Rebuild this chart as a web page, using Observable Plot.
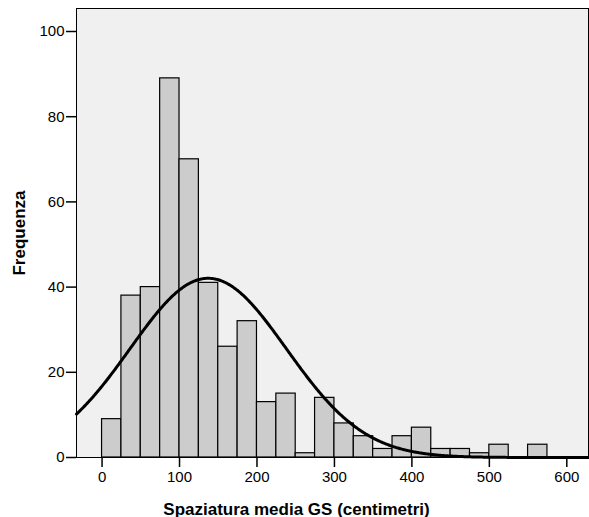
<!DOCTYPE html>
<html>
<head>
<meta charset="utf-8">
<script src="https://cdn.jsdelivr.net/npm/d3@7"></script>
<script src="https://cdn.jsdelivr.net/npm/@observablehq/plot@0.6"></script>
<style>
  html, body { margin: 0; padding: 0; background: #ffffff; }
  #chart svg { display: block; }
</style>
</head>
<body>
<div id="chart"></div>
<script>
// Histogram bins (centimetri), width 25
const binStarts = [0, 25, 50, 75, 100, 125, 150, 175, 200, 225, 250, 275, 300, 325, 350, 375, 400, 425, 450, 475, 500, 525, 550];
const counts    = [9, 38, 40, 89, 70, 41, 26, 32, 13, 15, 1, 14, 8, 5, 2, 5, 7, 2, 2, 1, 3, 0, 3];
const binWidth = 25;
// Fitted normal curve parameters
const fitMean = 137;
const fitSd = 101;
const fitN = 426;
const xTicks = [0, 100, 200, 300, 400, 500, 600];
const yTicks = [0, 20, 40, 60, 80, 100];

const bars = binStarts.map((s, i) => ({x1: s, x2: s + binWidth, y: counts[i]}))
  .filter(d => d.y > 0);

const xDomain = [-33, 628];
const curve = d3.range(xDomain[0], xDomain[1] + 0.5, 1).map(x => ({
  x,
  y: fitN * binWidth / (fitSd * Math.sqrt(2 * Math.PI)) * Math.exp(-0.5 * ((x - fitMean) / fitSd) ** 2)
}));

const font = "'Liberation Sans Narrow', 'Liberation Sans', Arial, sans-serif";

const chart = Plot.plot({
  width: 589,
  height: 517,
  marginLeft: 76,
  marginRight: 1,
  marginTop: 8,
  marginBottom: 60,
  style: {fontFamily: font, fontSize: "15px", color: "#000", background: "#ffffff"},
  x: {domain: xDomain},
  y: {domain: [0, 105.4]},
  marks: [
    Plot.frame({fill: "#f0f0f0", stroke: "none"}),
    Plot.rectY(bars, {x1: "x1", x2: "x2", y: "y", fill: "#cccccc", stroke: "#000", strokeWidth: 1.2, insetLeft: 0, insetRight: 0}),
    Plot.line(curve, {x: "x", y: "y", stroke: "#000", strokeWidth: 3}),
    Plot.frame({stroke: "#000", strokeWidth: 1}),
    Plot.axisY({ticks: yTicks, tickSize: 10, tickPadding: 2, tickFormat: d => d, fontSize: 15, strokeWidth: 1.5, label: null}),
    Plot.axisX({ticks: xTicks, tickSize: 10, tickPadding: 4, tickFormat: d => d, fontSize: 15, strokeWidth: 1.5, label: null}),
    Plot.text(["Spaziatura media GS (centimetri)"], {frameAnchor: "bottom", dx: -36, dy: 57, fontSize: 17, fontWeight: "bold", fill: "#000"}),
    Plot.text(["Frequenza"], {frameAnchor: "left", textAnchor: "middle", dx: -57, rotate: -90, fontSize: 17, fontWeight: "bold", fontFamily: "'Liberation Sans', Arial, sans-serif", fill: "#000"})
  ]
});

document.getElementById("chart").appendChild(chart);
</script>
</body>
</html>
